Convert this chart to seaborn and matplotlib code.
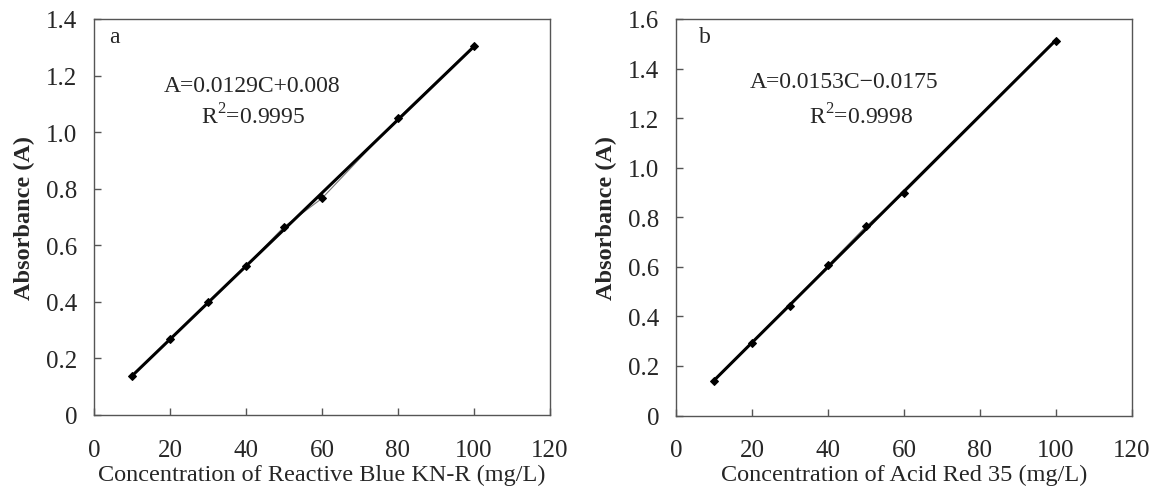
import matplotlib
matplotlib.use("Agg")
import matplotlib.pyplot as plt
import seaborn as sns
import pandas as pd

# ---- data ----
conc_a = [10, 20, 30, 40, 50, 60, 80, 100]
abs_a = [0.139, 0.268, 0.398, 0.527, 0.665, 0.766, 1.049, 1.305]
conc_b = [10, 20, 30, 40, 50, 60, 100]
abs_b = [0.138, 0.294, 0.442, 0.606, 0.763, 0.898, 1.513]

xticks = [0, 20, 40, 60, 80, 100, 120]
yticks_a = [0, 0.2, 0.4, 0.6, 0.8, 1.0, 1.2, 1.4]
yticks_b = [0, 0.2, 0.4, 0.6, 0.8, 1.0, 1.2, 1.4, 1.6]
ytick_labels_a = ["0", "0.2", "0.4", "0.6", "0.8", "1.0", "1.2", "1.4"]
ytick_labels_b = ["0", "0.2", "0.4", "0.6", "0.8", "1.0", "1.2", "1.4", "1.6"]

xlabel_a = "Concentration of Reactive Blue KN-R (mg/L)"
xlabel_b = "Concentration of Acid Red 35 (mg/L)"
ylabel = "Absorbance (A)"
eq_a = "A=0.0129C+0.008"
r2_a = "R$^2$=0.9995"
eq_b = "A=0.0153C\u22120.0175"
r2_b = "R$^2$=0.9998"

sns.set_theme(style="white")
plt.rcParams["font.family"] = ["Liberation Serif", "DejaVu Serif"]
plt.rcParams["mathtext.fontset"] = "custom"
plt.rcParams["mathtext.rm"] = "Liberation Serif"

W, H = 1151, 489
fig = plt.figure(figsize=(W / 100, H / 100), dpi=100)
ax1 = fig.add_axes([94 / W, 1 - 416 / H, 456 / W, 396 / H])
ax2 = fig.add_axes([676 / W, 1 - 416.5 / H, 456 / W, 396.5 / H])

panels = [
    (ax1, conc_a, abs_a, yticks_a, ytick_labels_a, xlabel_a, "a", eq_a, r2_a,
     (0.033, 0.955), (0.346, 0.833), (0.35, 0.755)),
    (ax2, conc_b, abs_b, yticks_b, ytick_labels_b, xlabel_b, "b", eq_b, r2_b,
     (0.05, 0.955), (0.368, 0.843), (0.405, 0.755)),
]

for ax, xs, ys, yt, ytl, xl, tag, eq, r2, tagpos, eqpos, r2pos in panels:
    df = pd.DataFrame({"c": xs, "a": ys})
    # thin connecting line through data
    sns.lineplot(data=df, x="c", y="a", ax=ax, color="#777777", lw=0.8,
                 marker="D", markersize=4, markeredgecolor="black",
                 markerfacecolor="black")
    # linear trend line
    sns.regplot(data=df, x="c", y="a", ax=ax, ci=None, scatter=False,
                line_kws=dict(color="black", lw=2.2))
    ax.set_xlim(0, 120)
    ax.set_ylim(0, yt[-1])
    ax.set_xticks(xticks)
    ax.set_xticklabels([str(t) for t in xticks])
    ax.set_yticks(yt)
    ax.set_yticklabels(ytl)
    ax.tick_params(direction="in", length=5, width=1, color="#555555",
                   labelsize=18, bottom=True, left=True, pad=12)
    ax.tick_params(axis="x", pad=17)
    for sp in ax.spines.values():
        sp.set_color("#555555")
        sp.set_linewidth(1.0)
    ax.set_xlabel(xl, fontsize=17.5, labelpad=2)
    ax.set_ylabel(ylabel, fontsize=17.5, labelpad=8, fontweight="bold")
    ax.text(*tagpos, tag, transform=ax.transAxes, fontsize=17, ha="left", va="center")
    ax.text(*eqpos, eq, transform=ax.transAxes, fontsize=17, ha="center", va="center")
    ax.text(*r2pos, r2, transform=ax.transAxes, fontsize=17, ha="center", va="center")

fig.savefig("out.png", dpi=100, facecolor="white")
